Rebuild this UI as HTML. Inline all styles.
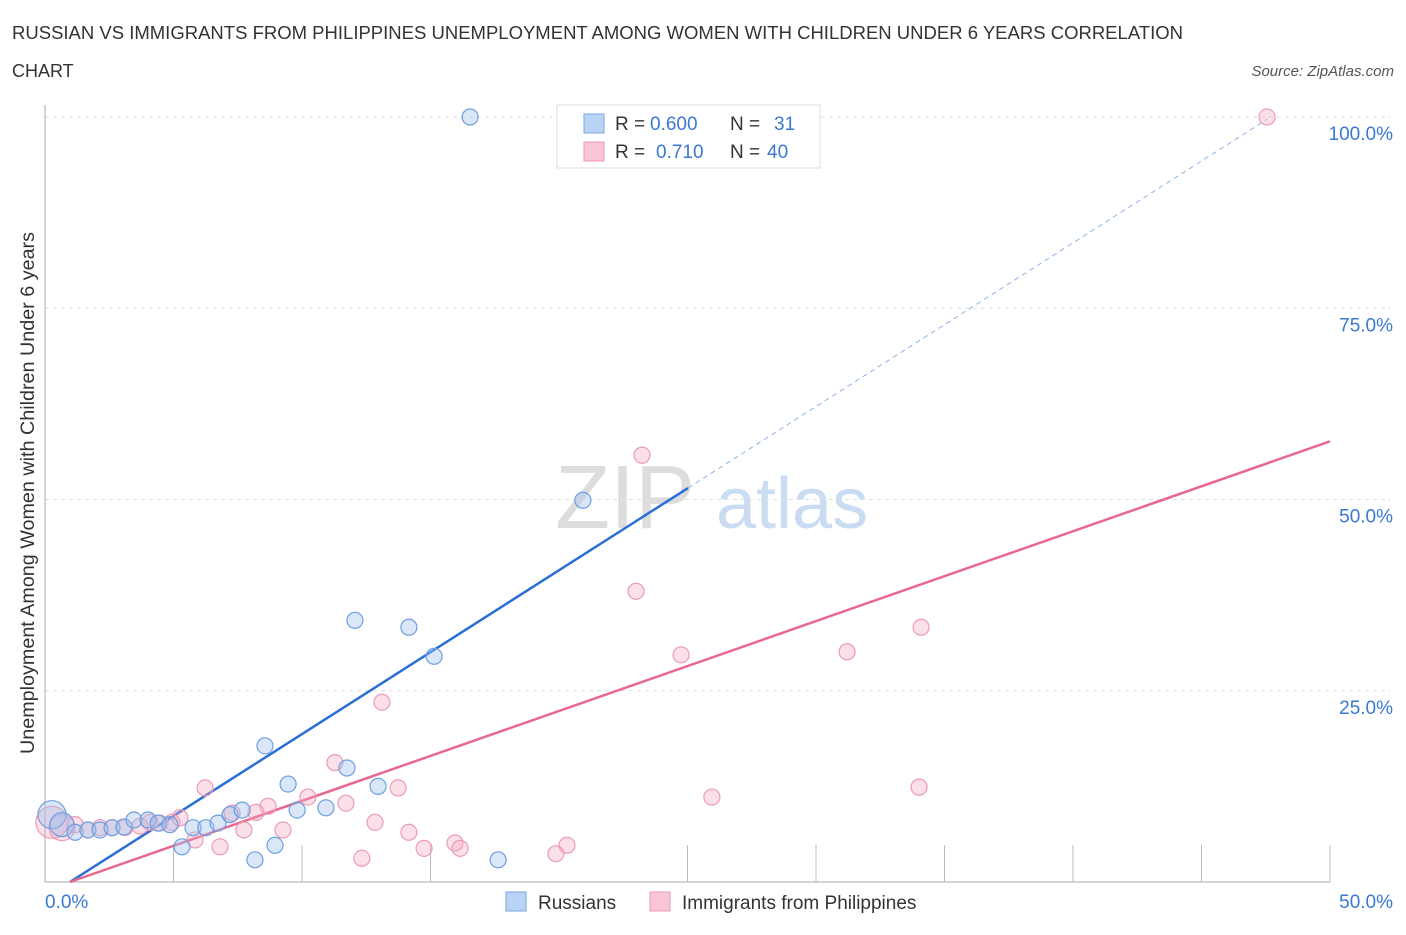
<!DOCTYPE html>
<html><head><meta charset="utf-8"><style>
body{margin:0;background:#fff;font-family:"Liberation Sans",sans-serif}
svg text{font-family:"Liberation Sans",sans-serif}
</style></head><body>
<svg width="1406" height="930" viewBox="0 0 1406 930">
<text x="12" y="39" font-size="18" fill="#333" textLength="1171" lengthAdjust="spacingAndGlyphs">RUSSIAN VS IMMIGRANTS FROM PHILIPPINES UNEMPLOYMENT AMONG WOMEN WITH CHILDREN UNDER 6 YEARS CORRELATION</text>
<text x="12" y="77" font-size="18" fill="#333">CHART</text>
<text x="1394" y="76" font-size="15" fill="#555" font-style="italic" text-anchor="end">Source: ZipAtlas.com</text>
<g>
<text x="555" y="528" font-size="90" fill="#ddd" font-family="Liberation Serif">ZIP</text>
<text x="716" y="528" font-size="72" fill="#c9dcf2">atlas</text>
</g>
<g id="grid"></g>
<g id="axes"></g>
<text transform="translate(34,493) rotate(-90)" font-size="19" fill="#333" text-anchor="middle" textLength="522" lengthAdjust="spacingAndGlyphs">Unemployment Among Women with Children Under 6 years</text>
<g id="lines"></g>
<g id="points"></g>
<g>
<rect x="557" y="105" width="263" height="63" fill="#fff" stroke="#ddd"/>
<rect x="584" y="114" width="20" height="19" fill="#b9d3f5" stroke="#7aa7e0"/>
<rect x="584" y="142" width="20" height="19" fill="#f8c6d4" stroke="#eb98b3"/>
<text x="615" y="130" font-size="19" fill="#333">R = <tspan x="650" fill="#3a78d4">0.600</tspan></text>
<text x="730" y="130" font-size="19" fill="#333">N = <tspan x="774" fill="#3a78d4">31</tspan></text>
<text x="615" y="158" font-size="19" fill="#333">R = <tspan x="656" fill="#3a78d4">0.710</tspan></text>
<text x="730" y="158" font-size="19" fill="#333">N = <tspan x="767" fill="#3a78d4">40</tspan></text>
</g>
<g>
<rect x="506" y="892" width="20" height="19" fill="#b9d3f5" stroke="#7aa7e0"/>
<text x="538" y="909" font-size="19" fill="#333">Russians</text>
<rect x="650" y="892" width="20" height="19" fill="#f8c6d4" stroke="#eb98b3"/>
<text x="682" y="909" font-size="19" fill="#333">Immigrants from Philippines</text>
</g>
</svg>
<script>
const blueX=[0.27,0.66,1.17,1.67,2.14,2.61,3.07,3.46,4.01,4.40,4.86,5.33,5.76,6.26,6.73,7.20,7.67,8.17,8.56,8.95,9.46,9.81,10.93,11.75,12.06,12.96,14.16,15.14,17.63,20.93,16.54];
const blueY=[8.8,7.5,6.5,6.8,6.8,7.1,7.2,8.1,8.1,7.7,7.5,4.6,7.1,7.1,7.7,8.8,9.4,2.9,17.8,4.8,12.8,9.4,9.7,14.9,34.2,12.5,33.3,29.5,2.9,49.9,100];
const pinkX=[0.27,0.66,1.17,1.67,2.14,2.61,3.11,3.70,4.09,4.47,4.94,5.25,5.84,6.23,6.81,7.28,7.74,8.21,8.68,9.26,10.23,11.28,11.71,12.33,12.84,13.11,13.74,14.16,14.75,15.95,16.15,19.88,20.31,23.00,23.23,24.75,25.95,31.21,34.01,34.09,47.55];
const pinkY=[7.8,7.1,7.5,6.8,7.1,7.1,7.1,7.3,7.8,7.7,7.8,8.4,5.5,12.3,4.6,9.0,6.8,9.1,9.9,6.8,11.1,15.6,10.3,3.1,7.8,23.5,12.3,6.5,4.4,5.1,4.4,3.7,4.8,38.0,55.8,29.7,11.1,30.1,12.4,33.3,100];
const blueSizes=[14,12];const pinkSizes=[16,13];
const yTicks=[25,50,75,100];
const yTickLabels=["25.0%","50.0%","75.0%","100.0%"];
const xTicks=[5,10,15,25,30,35,40,45,50];
const blueTrend=[0.97,0,25.02,51.5,47.55,99.7];
const pinkTrend=[0.97,0,50,57.6];
const NS="http://www.w3.org/2000/svg";
const X0=45,X1=1330,Y0=882,Y100=117;
const sx=v=>X0+(X1-X0)*v/50, sy=v=>Y0-(Y0-Y100)*v/100;
function mk(t,a,p){const e=document.createElementNS(NS,t);for(const k in a)e.setAttribute(k,a[k]);p.appendChild(e);return e;}
const grid=document.getElementById('grid'),axes=document.getElementById('axes');
yTicks.forEach((v,i)=>{
 const l=mk('line',{x1:X0,x2:X1+60,y1:sy(v),y2:sy(v),stroke:'#ddd','stroke-dasharray':'4,4'},grid);
 
 
 const t=mk('text',{x:1393,y:sy(v)+23,'font-size':19,fill:'#3a78d4','text-anchor':'end'},axes);
 t.textContent=yTickLabels[i];
 
 
});
let a=mk('line',{x1:X0,x2:X0,y1:105,y2:Y0,stroke:'#aaa'},axes);


a=mk('line',{x1:X0,x2:X1,y1:Y0,y2:Y0,stroke:'#aaa'},axes);


xTicks.forEach(v=>{const t=mk('line',{x1:sx(v),x2:sx(v),y1:845,y2:Y0,stroke:'#bbb'},axes);
 
 });
let tl=mk('text',{x:45,y:908,'font-size':19,fill:'#3a78d4'},axes);tl.textContent='0.0%';


tl=mk('text',{x:1393,y:908,'font-size':19,fill:'#3a78d4','text-anchor':'end'},axes);tl.textContent='50.0%';


const lines=document.getElementById('lines');
let ln=mk('line',{x1:sx(blueTrend[0]),y1:sy(blueTrend[1]),x2:sx(blueTrend[2]),y2:sy(blueTrend[3]),stroke:'#2a6fd6','stroke-width':2.5},lines);


ln=mk('line',{x1:sx(blueTrend[2]),y1:sy(blueTrend[3]),x2:sx(blueTrend[4]),y2:sy(blueTrend[5]),stroke:'#8fb3e6','stroke-width':1,'stroke-dasharray':'5,4'},lines);


ln=mk('line',{x1:sx(pinkTrend[0]),y1:sy(pinkTrend[1]),x2:sx(pinkTrend[2]),y2:sy(pinkTrend[3]),stroke:'#e8688f','stroke-width':2.5},lines);


const pts=document.getElementById('points');
pinkX.forEach((x,i)=>{const c=mk('circle',{cx:sx(x),cy:sy(pinkY[i]),r:pinkSizes[i]||8,fill:'rgba(244,165,189,0.35)',stroke:'#ec9ab5','stroke-width':1.2},pts);
 
 });
blueX.forEach((x,i)=>{const c=mk('circle',{cx:sx(x),cy:sy(blueY[i]),r:blueSizes[i]||8,fill:'rgba(160,195,240,0.4)',stroke:'#6d9fe0','stroke-width':1.2},pts);
 
 });
</script>
</body></html>
